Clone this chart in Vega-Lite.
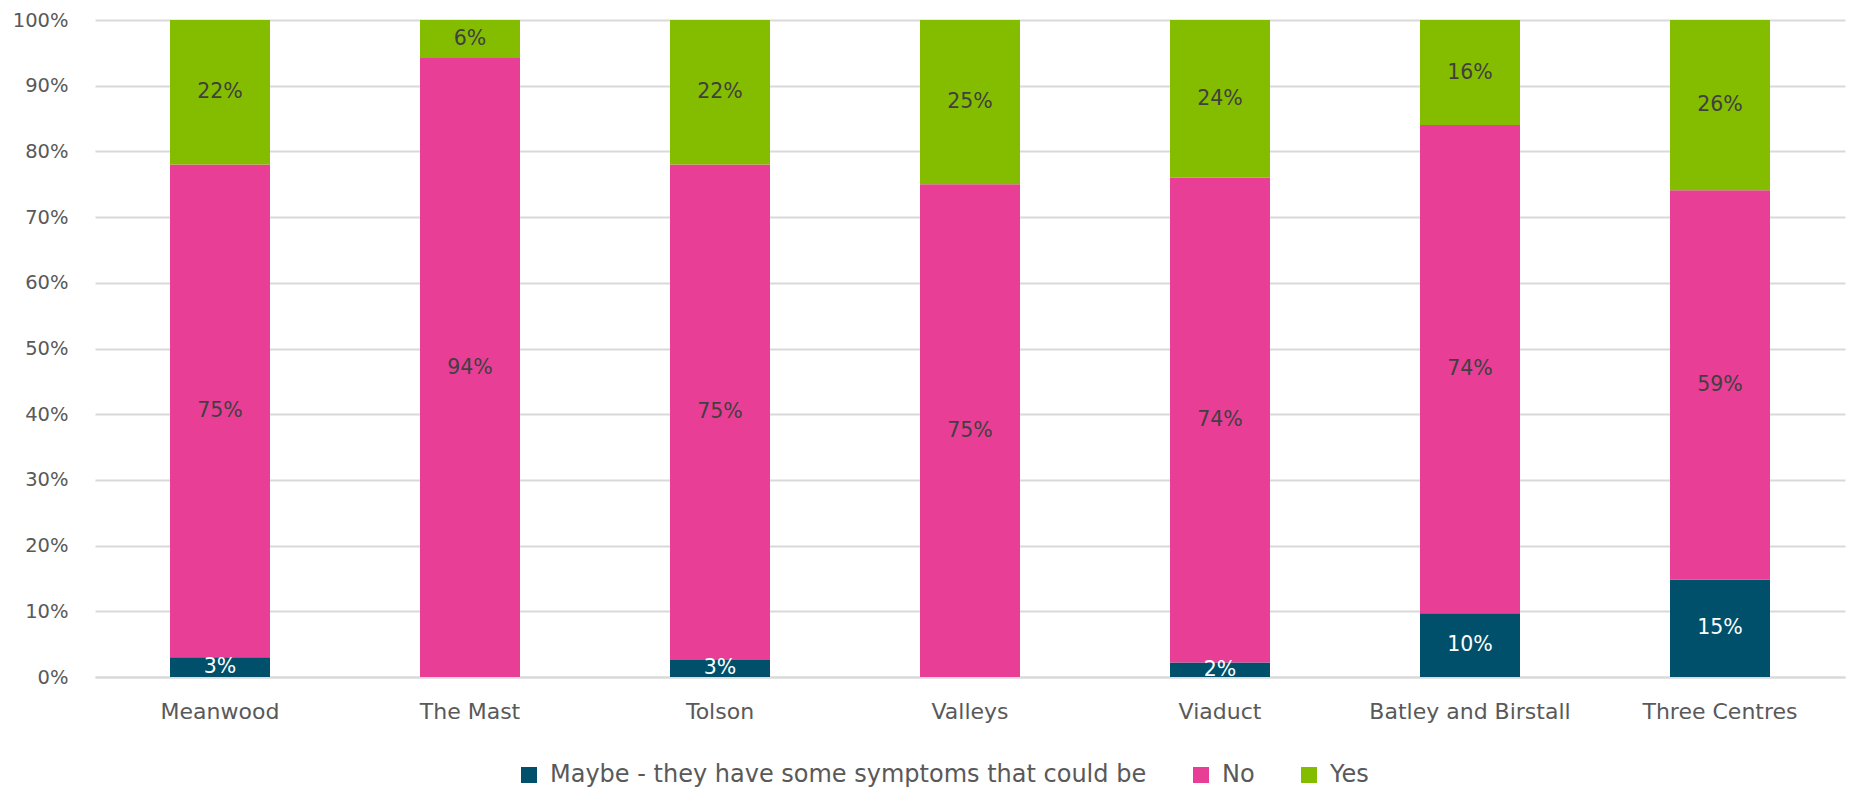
{
  "$schema": "https://vega.github.io/schema/vega-lite/v6.json",
  "autosize": "none",
  "width": 1750,
  "height": 657,
  "padding": {"left": 95, "top": 20, "right": 5, "bottom": 112},
  "background": "white",
  "config": {
    "font": "DejaVu Sans",
    "view": {"stroke": null},
    "axis": {"labelFont": "DejaVu Sans", "labelColor": "#595959"}
  },
  "data": {
    "values": [
      {"site": "Meanwood", "answer": "Maybe - they have some symptoms that could be", "value": 0.03},
      {"site": "Meanwood", "answer": "No", "value": 0.75},
      {"site": "Meanwood", "answer": "Yes", "value": 0.22},
      {"site": "The Mast", "answer": "No", "value": 0.942},
      {"site": "The Mast", "answer": "Yes", "value": 0.058},
      {"site": "Tolson", "answer": "Maybe - they have some symptoms that could be", "value": 0.026},
      {"site": "Tolson", "answer": "No", "value": 0.754},
      {"site": "Tolson", "answer": "Yes", "value": 0.22},
      {"site": "Valleys", "answer": "No", "value": 0.75},
      {"site": "Valleys", "answer": "Yes", "value": 0.25},
      {"site": "Viaduct", "answer": "Maybe - they have some symptoms that could be", "value": 0.022},
      {"site": "Viaduct", "answer": "No", "value": 0.738},
      {"site": "Viaduct", "answer": "Yes", "value": 0.24},
      {"site": "Batley and Birstall", "answer": "Maybe - they have some symptoms that could be", "value": 0.097},
      {"site": "Batley and Birstall", "answer": "No", "value": 0.743},
      {"site": "Batley and Birstall", "answer": "Yes", "value": 0.16},
      {"site": "Three Centres", "answer": "Maybe - they have some symptoms that could be", "value": 0.148},
      {"site": "Three Centres", "answer": "No", "value": 0.593},
      {"site": "Three Centres", "answer": "Yes", "value": 0.259}
    ]
  },
  "encoding": {
    "x": {
      "field": "site", "type": "nominal",
      "sort": ["Meanwood", "The Mast", "Tolson", "Valleys", "Viaduct", "Batley and Birstall", "Three Centres"],
      "scale": {"paddingInner": 0.6, "paddingOuter": 0.3},
      "axis": {"title": null, "labelAngle": 0, "labelFontSize": 22, "labelLimit": 400, "ticks": false, "domain": true, "domainColor": "#d9d9d9", "domainWidth": 2, "labelPadding": 24}
    },
    "y": {
      "field": "value", "type": "quantitative", "stack": "zero",
      "scale": {"domain": [0, 1], "nice": false},
      "axis": {"title": null, "format": ".0%", "labelFontSize": 19.5, "values": [0,0.1,0.2,0.3,0.4,0.5,0.6,0.7,0.8,0.9,1], "labelOverlap": false, "domain": false, "ticks": false, "gridColor": "#d9d9d9", "gridWidth": 2, "labelPadding": 27}
    },
    "order": {"field": "answer", "sort": "ascending"}
  },
  "layer": [
    {
      "mark": {"type": "bar"},
      "encoding": {
        "color": {
          "field": "answer", "type": "nominal",
          "scale": {"domain": ["Maybe - they have some symptoms that could be", "No", "Yes"], "range": ["#00506B", "#E83E96", "#84BD00"]},
          "legend": {
            "title": null, "orient": "none", "direction": "horizontal",
            "legendX": 422, "legendY": 743,
            "symbolType": "square", "symbolSize": 256, "symbolStrokeWidth": 0,
            "labelFontSize": 24, "labelColor": "#595959", "labelFont": "DejaVu Sans",
            "columnPadding": 42, "labelOffset": 9, "labelLimit": 800
          }
        }
      }
    },
    {
      "mark": {"type": "text", "fontSize": 20.5, "font": "DejaVu Sans", "baseline": "middle"},
      "encoding": {
        "y": {"field": "value", "type": "quantitative", "stack": "zero", "bandPosition": 0.5},
        "text": {"field": "value", "type": "quantitative", "format": ".0%"},
        "color": {
          "condition": {"test": "datum.answer == 'Maybe - they have some symptoms that could be'", "value": "#ffffff"},
          "value": "#404040"
        }
      }
    }
  ]
}
